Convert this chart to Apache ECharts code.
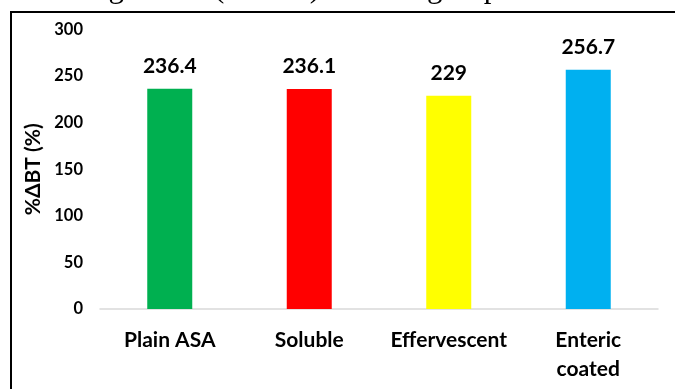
<!DOCTYPE html>
<html>
<head>
<meta charset="utf-8">
<script src="https://cdn.jsdelivr.net/npm/echarts@6/dist/echarts.min.js"></script>
<style>
  html, body { margin: 0; padding: 0; background: #fff; }
  #chart { width: 675px; height: 389px; }
</style>
</head>
<body>
<div id="chart"></div>
<script>
// Percentage change in bleeding time by aspirin formulation
const categories = ['Plain ASA', 'Soluble', 'Effervescent', 'Enteric coated'];
const values = [236.4, 236.1, 229, 256.7];
const barColors = ['#00B050', '#FF0000', '#FFFF00', '#00B0F0'];
const yTicks = [0, 50, 100, 150, 200, 250, 300];

const labelFont = 'Lato, "Open Sans", sans-serif';
const captionFont = '31px "Liberation Serif", serif';
const chart = echarts.init(document.getElementById('chart'), null, { renderer: 'canvas' });

chart.setOption({
  animation: false,
  backgroundColor: '#ffffff',
  graphic: [
    // caption line above the frame, only its lower part is in view
    { type: 'text', x: 124, y: 4, style: { text: 'bleeding', font: captionFont, fill: '#000', align: 'right', verticalAlign: 'bottom' } },
    { type: 'text', x: 320, y: 4, style: { text: 'time (%ΔBT)', font: captionFont, fill: '#000', align: 'right', verticalAlign: 'bottom' } },
    { type: 'text', x: 427, y: 4, style: { text: 'groups', font: captionFont, fill: '#000', align: 'left', verticalAlign: 'bottom' } },
    // chart frame
    { type: 'rect', shape: { x: 11, y: 12, width: 700, height: 420 }, style: { fill: 'none', stroke: '#000', lineWidth: 2 }, z: 10 }
  ],
  grid: { left: 100, right: 17, top: 29.5, bottom: 80, containLabel: false },
  xAxis: {
    type: 'category',
    data: categories,
    axisLine: { lineStyle: { color: '#D9D9D9', width: 1.5 } },
    axisTick: { show: false },
    axisLabel: {
      interval: 0,
      color: '#000', fontFamily: labelFont, fontWeight: 'bold', fontSize: 21,
      margin: 17, lineHeight: 29,
      formatter: v => v.length > 12 ? v.replace(' ', '\n') : v
    }
  },
  yAxis: {
    type: 'value',
    min: yTicks[0], max: yTicks[yTicks.length - 1], interval: 50,
    name: '%ΔBT (%)',
    nameLocation: 'middle',
    nameGap: 52,
    nameRotate: 90,
    nameTextStyle: { color: '#000', fontFamily: labelFont, fontWeight: 'bold', fontSize: 21 },
    axisLine: { show: false },
    axisTick: { show: false },
    splitLine: { show: false },
    axisLabel: { color: '#000', fontFamily: labelFont, fontWeight: 'bold', fontSize: 16.5, margin: 17 }
  },
  series: [{
    type: 'bar',
    barWidth: 45,
    data: values.map((v, i) => ({ value: v, itemStyle: { color: barColors[i] } })),
    label: {
      show: true, position: 'top', distance: 12,
      color: '#000', fontFamily: labelFont, fontWeight: 'bold', fontSize: 21
    }
  }]
});
</script>
</body>
</html>
